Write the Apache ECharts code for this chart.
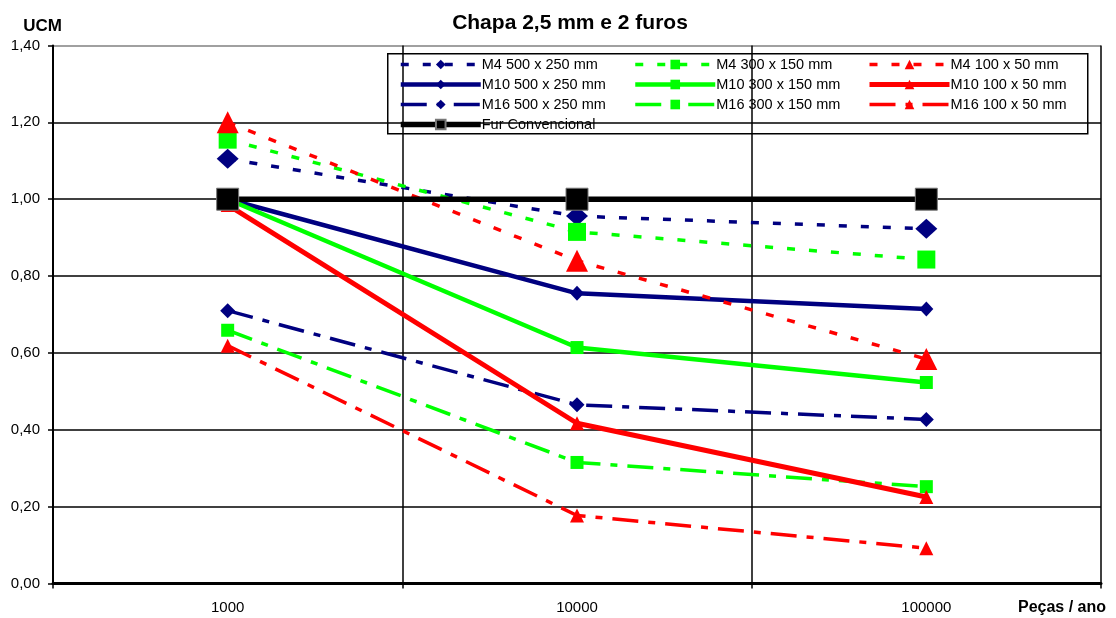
<!DOCTYPE html>
<html>
<head>
<meta charset="utf-8">
<script src="https://cdn.jsdelivr.net/npm/echarts@6/dist/echarts.min.js"></script>
<style>
html,body{margin:0;padding:0;background:#fff;}
#chart{width:1116px;height:618px;}
</style>
</head>
<body>
<div id="chart"></div>
<script>
const categories = ['1000', '10000', '100000'];
const yTicks = [0, 0.2, 0.4, 0.6, 0.8, 1.0, 1.2, 1.4];

const m4_500 = [1.105, 0.956, 0.923];
const m10_500 = [1.00, 0.755, 0.714];
const m16_500 = [0.71, 0.465, 0.427];
const m4_300 = [1.155, 0.915, 0.843];
const m10_300 = [1.00, 0.614, 0.523];
const m16_300 = [0.659, 0.315, 0.252];
const m4_100 = [1.20, 0.84, 0.584];
const m10_100 = [0.985, 0.417, 0.225];
const m16_100 = [0.619, 0.177, 0.092];
const fur = [1.00, 1.00, 1.00];

const names = {
  m4_500: 'M4 500 x 250 mm', m10_500: 'M10 500 x 250 mm', m16_500: 'M16 500 x 250 mm',
  m4_300: 'M4 300 x 150 mm', m10_300: 'M10 300 x 150 mm', m16_300: 'M16 300 x 150 mm',
  m4_100: 'M4 100 x 50 mm', m10_100: 'M10 100 x 50 mm', m16_100: 'M16 100 x 50 mm',
  fur: 'Fur Convencional'
};

const NAVY = '#000080', GREEN = '#00ff00', RED = '#ff0000', BLACK = '#000000';
const DOT = [8, 14];
const DASHDOT = [26, 10, 7, 10];

function mk(name, data, color, symbol, size, width, type, extra) {
  return Object.assign({
    name: name, type: 'line', data: data,
    symbol: symbol, symbolSize: size, showSymbol: true,
    lineStyle: { color: color, width: width, type: type, cap: 'butt' },
    itemStyle: { color: color },
    emphasis: { disabled: true },
    animation: false
  }, extra || {});
}

const series = [
  mk(names.m16_500, m16_500, NAVY, 'diamond', [15, 15], 3.5, DASHDOT),
  mk(names.m16_300, m16_300, GREEN, 'rect', 13, 3.5, DASHDOT),
  mk(names.m16_100, m16_100, RED, 'triangle', 14, 3.5, DASHDOT),
  mk(names.m10_500, m10_500, NAVY, 'diamond', [14, 15], 4.5, 'solid'),
  mk(names.m10_300, m10_300, GREEN, 'rect', 13, 4.5, 'solid'),
  mk(names.m10_100, m10_100, RED, 'triangle', 14, 5, 'solid'),
  mk(names.m4_500, m4_500, NAVY, 'diamond', [22, 20], 3.5, DOT),
  mk(names.m4_300, m4_300, GREEN, 'rect', 18, 3.5, DOT),
  mk(names.m4_100, m4_100, RED, 'triangle', 22, 3.5, DOT),
  mk(names.fur, fur, BLACK, 'rect', 22, 5.5, 'solid', {
    itemStyle: { color: BLACK, borderColor: '#777', borderWidth: 1 }
  })
];

function legend(left, data) {
  return {
    show: true, orient: 'vertical', left: left, top: 57,
    padding: 0, itemGap: 5, itemWidth: 80, itemHeight: 12,
    selectedMode: false,
    lineStyle: { width: 'inherit', type: 'inherit', color: 'inherit' },
    textStyle: { fontFamily: 'Liberation Sans, Arial', fontSize: 14.5, color: '#000', padding: [0, 0, 0, -4] },
    data: data
  };
}

const fmt = v => v.toFixed(2).replace('.', ',');

const option = {
  backgroundColor: '#fff',
  animation: false,
  title: {
    text: 'Chapa 2,5 mm e 2 furos',
    left: 565, top: 8, textAlign: 'center',
    textStyle: { fontFamily: 'Liberation Sans, Arial', fontSize: 21, fontWeight: 'bold', color: '#000' }
  },
  legend: [
    legend(398, [names.m4_500, names.m10_500, names.m16_500, names.fur]),
    legend(633, [names.m4_300, names.m10_300, names.m16_300]),
    legend(867, [names.m4_100, names.m10_100, names.m16_100])
  ],
  graphic: [{
    type: 'rect', left: 387, top: 53, z: 0,
    shape: { width: 700, height: 80 },
    style: { fill: '#fff', stroke: '#000', lineWidth: 1.5 }
  }],
  grid: { left: 53, right: 15, top: 45.5, bottom: 34.5, containLabel: false },
  xAxis: {
    type: 'category', data: categories, boundaryGap: true,
    name: 'Peças / ano', nameLocation: 'end', nameGap: -83,
    nameTextStyle: { fontFamily: 'Liberation Sans, Arial', fontSize: 16, fontWeight: 'bold', color: '#000', align: 'left', verticalAlign: 'top', padding: [16, 0, 0, 0] },
    axisLine: { show: true, lineStyle: { color: '#000', width: 3 } },
    axisTick: { show: true, alignWithLabel: false, length: 5, lineStyle: { color: '#000', width: 1.5 } },
    axisLabel: { margin: 17, fontFamily: 'Liberation Sans, Arial', fontSize: 15, color: '#000' },
    splitLine: { show: true, lineStyle: { color: '#000', width: 1.5 } }
  },
  yAxis: {
    type: 'value', min: 0, max: 1.4, interval: 0.2,
    name: 'UCM', nameLocation: 'end', nameGap: 11,
    nameTextStyle: { fontFamily: 'Liberation Sans, Arial', fontSize: 17, fontWeight: 'bold', color: '#000', align: 'center', padding: [0, 21, 0, 0] },
    axisLine: { show: true, lineStyle: { color: '#000', width: 2 } },
    axisTick: { show: true, length: 5, lineStyle: { color: '#000', width: 1.5 } },
    axisLabel: { margin: 13, fontFamily: 'Liberation Sans, Arial', fontSize: 15, color: '#000', formatter: fmt },
    splitLine: { show: true, lineStyle: { color: ['#000', '#000', '#000', '#000', '#000', '#000', '#000', '#808080'], width: 1.5 } }
  },
  series: series
};

const chart = echarts.init(document.getElementById('chart'), null, { renderer: 'canvas' });
chart.setOption(option);
</script>
</body>
</html>
